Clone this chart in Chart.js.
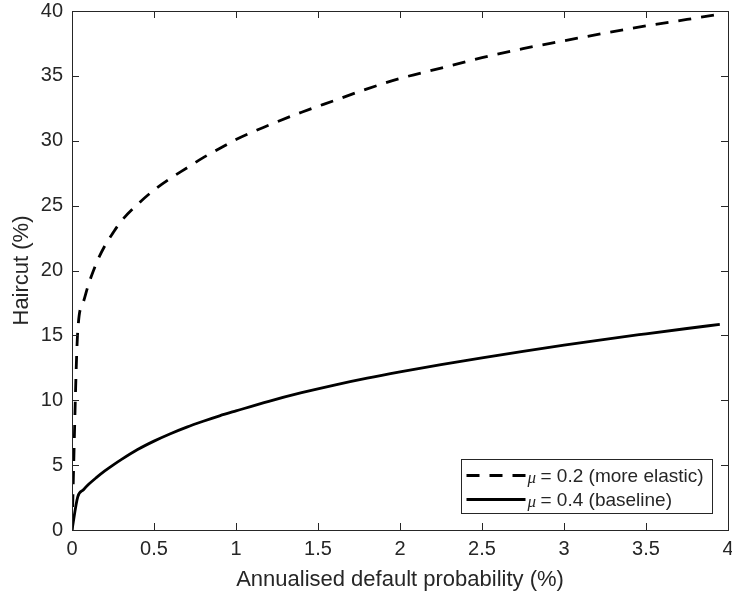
<!DOCTYPE html>
<html>
<head>
<meta charset="utf-8">
<script src="https://cdn.jsdelivr.net/npm/chart.js@4.4.1/dist/chart.umd.min.js"></script>
<style>
  html, body { margin: 0; padding: 0; background: #fff; }
  #wrap { width: 732px; height: 599px; }
</style>
</head>
<body>
<div id="wrap"><canvas id="grafico" width="732" height="599"></canvas></div>
<script>
// Eixo x: probabilidade de default anualizada (%)
const probDefault = [0, 0.035, 0.07, 0.1, 0.15, 0.2, 0.25, 0.3, 0.4, 0.5, 0.6, 0.7, 0.8, 0.9, 1.0, 1.2, 1.4, 1.6, 1.8, 2.0, 2.25, 2.5, 2.75, 3.0, 3.25, 3.5, 3.75, 3.95];
// Haircut (%) para cada mu
const haircutMu02 = [0, 15.3, 17.6, 18.9, 20.6, 21.9, 22.9, 23.8, 25.1, 26.2, 27.1, 27.9, 28.7, 29.4, 30.1, 31.2, 32.2, 33.1, 34.0, 34.8, 35.6, 36.4, 37.1, 37.7, 38.3, 38.85, 39.35, 39.75];
const haircutMu04 = [0, 2.55, 3.1, 3.5, 4.05, 4.55, 5.0, 5.42, 6.2, 6.85, 7.42, 7.93, 8.38, 8.8, 9.18, 9.92, 10.58, 11.17, 11.7, 12.18, 12.74, 13.27, 13.77, 14.25, 14.7, 15.12, 15.53, 15.85];
const legendas = ['= 0.2 (more elastic)', '= 0.4 (baseline)'];
const xTicks = [0, 0.5, 1, 1.5, 2, 2.5, 3, 3.5, 4];
const yTicks = [0, 5, 10, 15, 20, 25, 30, 35, 40];

const corEixo = '#262626';
const fonte = '"Liberation Sans", Arial, Helvetica, sans-serif';
Chart.defaults.font.family = fonte;
Chart.defaults.color = corEixo;

const pontos = (ys) => probDefault.map((x, i) => ({ x: x, y: ys[i] }));

// Caixa dos eixos com ticks para dentro (estilo MATLAB)
const caixaEixos = {
    id: 'caixaEixos',
    afterDraw(chart) {
        const { ctx, chartArea: a, scales } = chart;
        const tam = 7;
        ctx.save();
        ctx.strokeStyle = corEixo;
        ctx.lineWidth = 1;
        ctx.beginPath();
        scales.x.ticks.forEach(t => {
            const px = Math.round(scales.x.getPixelForValue(t.value)) + 0.5;
            ctx.moveTo(px, a.bottom); ctx.lineTo(px, a.bottom - tam);
            ctx.moveTo(px, a.top); ctx.lineTo(px, a.top + tam);
        });
        scales.y.ticks.forEach(t => {
            const py = Math.round(scales.y.getPixelForValue(t.value)) + 0.5;
            ctx.moveTo(a.left, py); ctx.lineTo(a.left + tam, py);
            ctx.moveTo(a.right, py); ctx.lineTo(a.right - tam, py);
        });
        ctx.stroke();
        ctx.strokeRect(Math.round(a.left) + 0.5, Math.round(a.top) + 0.5,
            Math.round(a.right - a.left), Math.round(a.bottom - a.top));

        // Legenda dentro do gráfico
        const w = 251, h = 54;
        const lx = Math.round(a.right - 267) + 0.5;
        const ly = Math.round(a.bottom - 71) + 0.5;
        ctx.fillStyle = '#fff';
        ctx.fillRect(lx, ly, w, h);
        ctx.strokeRect(lx, ly, w, h);
        chart.data.datasets.forEach((ds, i) => {
            const yy = ly + 16 + i * 24;
            ctx.save();
            ctx.strokeStyle = '#000';
            ctx.lineWidth = 2.8;
            ctx.setLineDash(ds.borderDash || []);
            ctx.beginPath();
            ctx.moveTo(lx + 5, yy);
            ctx.lineTo(lx + 64, yy);
            ctx.stroke();
            ctx.restore();
            ctx.fillStyle = corEixo;
            ctx.textBaseline = 'middle';
            ctx.font = 'italic 17px "Liberation Serif", "Times New Roman", serif';
            ctx.fillText('\u03BC', lx + 66, yy + 3);
            ctx.font = '19px ' + fonte;
            ctx.fillText(legendas[i], lx + 79, yy + 1);
        });
        ctx.restore();
    }
};

const ctx = document.getElementById('grafico').getContext('2d');
new Chart(ctx, {
    type: 'line',
    data: {
        datasets: [
            {
                label: '\u03BC ' + legendas[0],
                data: pontos(haircutMu02),
                borderColor: '#000',
                borderWidth: 2.8,
                borderDash: [13, 10],
                pointRadius: 0,
                cubicInterpolationMode: 'monotone',
                fill: false
            },
            {
                label: '\u03BC ' + legendas[1],
                data: pontos(haircutMu04),
                borderColor: '#000',
                borderWidth: 2.8,
                pointRadius: 0,
                cubicInterpolationMode: 'monotone',
                fill: false
            }
        ]
    },
    options: {
        responsive: false,
        animation: false,
        layout: { padding: { top: 11, right: 4, left: 0, bottom: 0 } },
        plugins: {
            legend: { display: false },
            tooltip: { enabled: false }
        },
        scales: {
            x: {
                type: 'linear',
                min: 0,
                max: 4,
                afterBuildTicks: (s) => { s.ticks = xTicks.map(v => ({ value: v })); },
                afterFit: (s) => { s.height = 69; s.paddingLeft = 0; s.paddingRight = 0; },
                grid: { display: false, drawTicks: false },
                border: { display: false },
                ticks: { font: { size: 20 }, padding: 7, maxRotation: 0, color: corEixo,
                         callback: (v) => String(v) },
                title: {
                    display: true,
                    text: 'Annualised default probability (%)',
                    font: { size: 22 },
                    color: corEixo,
                    padding: { top: 0, bottom: 6 }
                }
            },
            y: {
                type: 'linear',
                min: 0,
                max: 40,
                afterBuildTicks: (s) => { s.ticks = yTicks.map(v => ({ value: v })); },
                afterFit: (s) => { s.width = 72; s.paddingTop = 0; s.paddingBottom = 0; },
                grid: { display: false, drawTicks: false },
                border: { display: false },
                ticks: { font: { size: 20 }, padding: 9, color: corEixo,
                         callback: (v) => String(v) },
                title: {
                    display: true,
                    text: 'Haircut (%)',
                    font: { size: 22 },
                    color: corEixo,
                    padding: { top: 9, bottom: 0 }
                }
            }
        }
    },
    plugins: [caixaEixos]
});
</script>
</body>
</html>
